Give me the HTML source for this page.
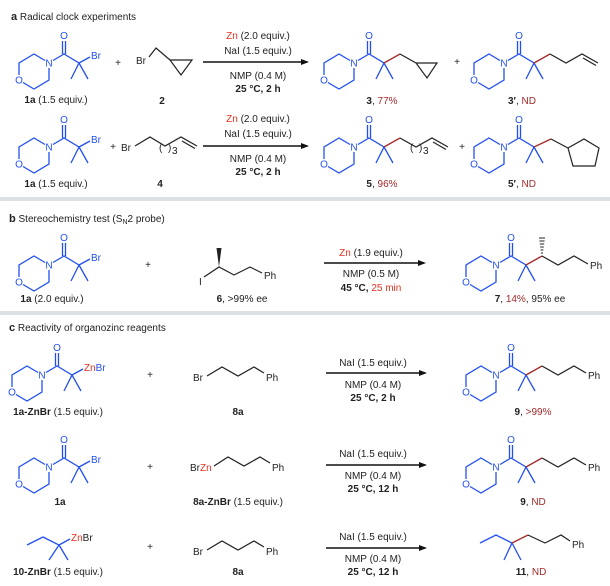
<!DOCTYPE html>
<html><head><meta charset="utf-8"><style>
html,body{margin:0;padding:0;background:#fff}
svg{display:block}
text{font-family:"Liberation Sans",Arial,sans-serif;font-size:10px;fill:#222}
.b{stroke:#2250f0;stroke-width:1.3;fill:none}
.k{stroke:#222;stroke-width:1.2;fill:none}
.r{stroke:#a52a2a;stroke-width:1.3;fill:none}
.bl{fill:#2250f0}
.rd{fill:#e83020}
.dr{fill:#a52a2a}
.c{text-anchor:middle}
.bd{font-weight:bold}
</style></head><body>
<svg width="610" height="586" viewBox="0 0 610 586" xmlns="http://www.w3.org/2000/svg">
<defs>
<marker id="ah" markerWidth="8" markerHeight="6" refX="6" refY="3" orient="auto" markerUnits="userSpaceOnUse"><path d="M0,0 L8,3 L0,6 z" fill="#111"/></marker>
</defs>
<rect x="0" y="197" width="610" height="4" fill="#dde0e2"/>
<rect x="0" y="311" width="610" height="4" fill="#dde0e2"/>

<text x="11" y="20"><tspan class="bd" font-size="11">a</tspan> Radical clock experiments</text>
<text x="9" y="222"><tspan class="bd" font-size="11">b</tspan> Stereochemistry test (S<tspan font-size="7" dy="2">N</tspan><tspan dy="-2">2 probe)</tspan></text>
<text x="9" y="331"><tspan class="bd" font-size="11">c</tspan> Reactivity of organozinc reagents</text>

<!-- ===== Row a1 ===== -->
<g transform="translate(49,63)">
<path class="b" d="M-4,-2.5 L-15,-9 L-30,0 L-30,12 M-26,19.5 L-15,26 L0,17 L0,5 M4,-2.5 L15,-9 L30,0 L22,16 M30,0 L39,16 M30,0 L41,-6 M13.5,-9 L13.5,-22 M16.5,-9 L16.5,-22"/>
<text x="0" y="3.5" class="c bl">N</text><text x="-30" y="20.5" class="c bl">O</text><text x="15" y="-24" class="c bl">O</text><text x="42" y="-4" class="bl">Br</text>
</g>
<text x="56" y="103" class="c"><tspan class="bd">1a</tspan> (1.5 equiv.)</text>
<text x="118" y="66" class="c">+</text>
<text x="136" y="64">Br</text>
<path class="k" d="M149,57 L156,48 L170,60 M170,60 L192,60 L181,75 Z"/>
<text x="162" y="104" class="c bd">2</text>
<line x1="203" y1="62" x2="307" y2="62" stroke="#111" stroke-width="1.6" marker-end="url(#ah)"/>
<text x="258" y="39" class="c"><tspan class="rd">Zn</tspan> (2.0 equiv.)</text>
<text x="258" y="54" class="c">NaI (1.5 equiv.)</text>
<text x="258" y="79" class="c">NMP (0.4 M)</text>
<text x="258" y="92" class="c bd">25 °C, 2 h</text>
<g transform="translate(354,63)">
<path class="b" d="M-4,-2.5 L-15,-9 L-30,0 L-30,12 M-26,19.5 L-15,26 L0,17 L0,5 M4,-2.5 L15,-9 L30,0 L22,16 M30,0 L39,16 M13.5,-9 L13.5,-22 M16.5,-9 L16.5,-22"/>
<text x="0" y="3.5" class="c bl">N</text><text x="-30" y="20.5" class="c bl">O</text><text x="15" y="-24" class="c bl">O</text>
<path class="r" d="M30,0 L46,-9"/>
<path class="k" d="M46,-9 L62,0 M62,0 L83,0 L73,15 Z"/>
</g>
<text x="382" y="104" class="c"><tspan class="bd">3</tspan>, <tspan class="dr">77%</tspan></text>
<text x="457" y="65" class="c">+</text>
<g transform="translate(504,63)">
<path class="b" d="M-4,-2.5 L-15,-9 L-30,0 L-30,12 M-26,19.5 L-15,26 L0,17 L0,5 M4,-2.5 L15,-9 L30,0 L22,16 M30,0 L39,16 M13.5,-9 L13.5,-22 M16.5,-9 L16.5,-22"/>
<text x="0" y="3.5" class="c bl">N</text><text x="-30" y="20.5" class="c bl">O</text><text x="15" y="-24" class="c bl">O</text>
<path class="r" d="M30,0 L46,-9"/>
<path class="k" d="M46,-9 L62,0 L78,-9 L94,0 M79,-5 L92,2.5"/>
</g>
<text x="522" y="104" class="c"><tspan class="bd">3′</tspan>, <tspan class="dr">ND</tspan></text>

<!-- ===== Row a2 ===== -->
<g transform="translate(49,147)">
<path class="b" d="M-4,-2.5 L-15,-9 L-30,0 L-30,12 M-26,19.5 L-15,26 L0,17 L0,5 M4,-2.5 L15,-9 L30,0 L22,16 M30,0 L39,16 M30,0 L41,-6 M13.5,-9 L13.5,-22 M16.5,-9 L16.5,-22"/>
<text x="0" y="3.5" class="c bl">N</text><text x="-30" y="20.5" class="c bl">O</text><text x="15" y="-24" class="c bl">O</text><text x="42" y="-4" class="bl">Br</text>
</g>
<text x="56" y="187" class="c"><tspan class="bd">1a</tspan> (1.5 equiv.)</text>
<text x="113" y="150" class="c">+</text>
<text x="121" y="151">Br</text>
<path class="k" d="M135,146 L150,137 L165,146 L181,137 L197,146 M182,141 L195,148.5"/>
<text x="159" y="151" font-size="9">(</text><text x="168" y="151" font-size="9">)</text><text x="172" y="154" font-size="7">3</text>
<text x="160" y="187" class="c bd">4</text>
<line x1="203" y1="146" x2="307" y2="146" stroke="#111" stroke-width="1.6" marker-end="url(#ah)"/>
<text x="258" y="122" class="c"><tspan class="rd">Zn</tspan> (2.0 equiv.)</text>
<text x="258" y="137" class="c">NaI (1.5 equiv.)</text>
<text x="258" y="162" class="c">NMP (0.4 M)</text>
<text x="258" y="175" class="c bd">25 °C, 2 h</text>
<g transform="translate(354,147)">
<path class="b" d="M-4,-2.5 L-15,-9 L-30,0 L-30,12 M-26,19.5 L-15,26 L0,17 L0,5 M4,-2.5 L15,-9 L30,0 L22,16 M30,0 L39,16 M13.5,-9 L13.5,-22 M16.5,-9 L16.5,-22"/>
<text x="0" y="3.5" class="c bl">N</text><text x="-30" y="20.5" class="c bl">O</text><text x="15" y="-24" class="c bl">O</text>
<path class="r" d="M30,0 L46,-9"/>
<path class="k" d="M46,-9 L62,0 L78,-9 L94,0 M79,-5 L92,2.5"/>
<text x="56" y="4" font-size="9">(</text><text x="65" y="4" font-size="9">)</text><text x="69" y="7" font-size="7">3</text>
</g>
<text x="382" y="187" class="c"><tspan class="bd">5</tspan>, <tspan class="dr">96%</tspan></text>
<text x="462" y="150" class="c">+</text>
<g transform="translate(504,147)">
<path class="b" d="M-4,-2.5 L-15,-9 L-30,0 L-30,12 M-26,19.5 L-15,26 L0,17 L0,5 M4,-2.5 L15,-9 L30,0 L22,16 M30,0 L39,16 M13.5,-9 L13.5,-22 M16.5,-9 L16.5,-22"/>
<text x="0" y="3.5" class="c bl">N</text><text x="-30" y="20.5" class="c bl">O</text><text x="15" y="-24" class="c bl">O</text>
<path class="r" d="M30,0 L47,-8"/>
<path class="k" d="M47,-8 L64,1 M64,1 L80,-8 L95,1 L91,19 L69,19 Z"/>
</g>
<text x="522" y="187" class="c"><tspan class="bd">5′</tspan>, <tspan class="dr">ND</tspan></text>

<!-- ===== Section b ===== -->
<g transform="translate(49,265)">
<path class="b" d="M-4,-2.5 L-15,-9 L-30,0 L-30,12 M-26,19.5 L-15,26 L0,17 L0,5 M4,-2.5 L15,-9 L30,0 L22,16 M30,0 L39,16 M30,0 L41,-6 M13.5,-9 L13.5,-22 M16.5,-9 L16.5,-22"/>
<text x="0" y="3.5" class="c bl">N</text><text x="-30" y="20.5" class="c bl">O</text><text x="15" y="-24" class="c bl">O</text><text x="42" y="-4" class="bl">Br</text>
</g>
<text x="52" y="302" class="c"><tspan class="bd">1a</tspan> (2.0 equiv.)</text>
<text x="148" y="268" class="c">+</text>
<text x="199" y="285">I</text>
<path d="M219,267 L216.5,248 L221.5,248 Z" fill="#222"/>
<path class="k" d="M204,277 L219,267 L234,275 L250,267 L262,273"/>
<text x="264" y="279">Ph</text>
<text x="242" y="302" class="c"><tspan class="bd">6</tspan>, &gt;99% ee</text>
<line x1="324" y1="263" x2="424" y2="263" stroke="#111" stroke-width="1.6" marker-end="url(#ah)"/>
<text x="371" y="256" class="c"><tspan class="rd">Zn</tspan> (1.9 equiv.)</text>
<text x="371" y="277" class="c">NMP (0.5 M)</text>
<text x="371" y="291" class="c bd">45 °C, <tspan class="rd" font-weight="normal">25 min</tspan></text>
<g transform="translate(496,265)">
<path class="b" d="M-4,-2.5 L-15,-9 L-30,0 L-30,12 M-26,19.5 L-15,26 L0,17 L0,5 M4,-2.5 L15,-9 L30,0 L22,16 M30,0 L39,16 M13.5,-9 L13.5,-22 M16.5,-9 L16.5,-22"/>
<text x="0" y="3.5" class="c bl">N</text><text x="-30" y="20.5" class="c bl">O</text><text x="15" y="-24" class="c bl">O</text>
<path class="r" d="M30,0 L46,-9"/>
<path class="k" d="M46,-9 L62,0 L78,-9 L92,-1"/>
<path stroke="#222" stroke-width="1" d="M45,-12 L47,-12 M44.6,-15 L47.4,-15 M44.2,-18 L47.8,-18 M43.8,-21 L48.2,-21 M43.4,-24 L48.6,-24 M43,-27 L49,-27"/>
<text x="94" y="4">Ph</text>
</g>
<text x="530" y="302" class="c"><tspan class="bd">7</tspan>, <tspan class="dr">14%</tspan>, 95% ee</text>

<!-- ===== Section c row 1 ===== -->
<g transform="translate(42,375)">
<path class="b" d="M-4,-2.5 L-15,-9 L-30,0 L-30,12 M-26,19.5 L-15,26 L0,17 L0,5 M4,-2.5 L15,-9 L30,0 L22,16 M30,0 L39,16 M30,0 L41,-6 M13.5,-9 L13.5,-22 M16.5,-9 L16.5,-22"/>
<text x="0" y="3.5" class="c bl">N</text><text x="-30" y="20.5" class="c bl">O</text><text x="15" y="-24" class="c bl">O</text><text x="42" y="-4"><tspan class="rd">Zn</tspan><tspan class="bl">Br</tspan></text>
</g>
<text x="58" y="415" class="c"><tspan class="bd">1a-ZnBr</tspan> (1.5 equiv.)</text>
<text x="150" y="378" class="c">+</text>
<text x="193" y="381">Br</text>
<path class="k" d="M207,376 L222,367 L238,376 L254,367 L264,373"/>
<text x="266" y="381">Ph</text>
<text x="238" y="415" class="c bd">8a</text>
<line x1="326" y1="373" x2="425" y2="373" stroke="#111" stroke-width="1.6" marker-end="url(#ah)"/>
<text x="373" y="366" class="c">NaI (1.5 equiv.)</text>
<text x="373" y="388" class="c">NMP (0.4 M)</text>
<text x="373" y="401" class="c bd">25 °C, 2 h</text>
<g transform="translate(496,375)">
<path class="b" d="M-4,-2.5 L-15,-9 L-30,0 L-30,12 M-26,19.5 L-15,26 L0,17 L0,5 M4,-2.5 L15,-9 L30,0 L22,16 M30,0 L39,16 M13.5,-9 L13.5,-22 M16.5,-9 L16.5,-22"/>
<text x="0" y="3.5" class="c bl">N</text><text x="-30" y="20.5" class="c bl">O</text><text x="15" y="-24" class="c bl">O</text>
<path class="r" d="M30,0 L46,-9"/>
<path class="k" d="M46,-9 L62,0 L78,-9 L90,-2"/>
<text x="92" y="4">Ph</text>
</g>
<text x="533" y="415" class="c"><tspan class="bd">9</tspan>, <tspan class="dr">&gt;99%</tspan></text>

<!-- ===== Section c row 2 ===== -->
<g transform="translate(49,467)">
<path class="b" d="M-4,-2.5 L-15,-9 L-30,0 L-30,12 M-26,19.5 L-15,26 L0,17 L0,5 M4,-2.5 L15,-9 L30,0 L22,16 M30,0 L39,16 M30,0 L41,-6 M13.5,-9 L13.5,-22 M16.5,-9 L16.5,-22"/>
<text x="0" y="3.5" class="c bl">N</text><text x="-30" y="20.5" class="c bl">O</text><text x="15" y="-24" class="c bl">O</text><text x="42" y="-4" class="bl">Br</text>
</g>
<text x="60" y="505" class="c bd">1a</text>
<text x="150" y="470" class="c">+</text>
<text x="190" y="471">Br<tspan class="rd">Zn</tspan></text>
<path class="k" d="M214,466 L228,457 L244,466 L260,457 L270,463"/>
<text x="272" y="471">Ph</text>
<text x="238" y="505" class="c"><tspan class="bd">8a-ZnBr</tspan> (1.5 equiv.)</text>
<line x1="326" y1="465" x2="425" y2="465" stroke="#111" stroke-width="1.6" marker-end="url(#ah)"/>
<text x="373" y="457" class="c">NaI (1.5 equiv.)</text>
<text x="373" y="479" class="c">NMP (0.4 M)</text>
<text x="373" y="492" class="c bd">25 °C, 12 h</text>
<g transform="translate(496,467)">
<path class="b" d="M-4,-2.5 L-15,-9 L-30,0 L-30,12 M-26,19.5 L-15,26 L0,17 L0,5 M4,-2.5 L15,-9 L30,0 L22,16 M30,0 L39,16 M13.5,-9 L13.5,-22 M16.5,-9 L16.5,-22"/>
<text x="0" y="3.5" class="c bl">N</text><text x="-30" y="20.5" class="c bl">O</text><text x="15" y="-24" class="c bl">O</text>
<path class="r" d="M30,0 L46,-9"/>
<path class="k" d="M46,-9 L62,0 L78,-9 L90,-2"/>
<text x="92" y="4">Ph</text>
</g>
<text x="533" y="505" class="c"><tspan class="bd">9</tspan>, <tspan class="dr">ND</tspan></text>

<!-- ===== Section c row 3 ===== -->
<path class="b" d="M27,545 L43,537 L59,545 L49,560 M59,545 L68,560 M59,545 L70,539"/>
<text x="71" y="541"><tspan class="rd">Zn</tspan>Br</text>
<text x="58" y="575" class="c"><tspan class="bd">10-ZnBr</tspan> (1.5 equiv.)</text>
<text x="150" y="550" class="c">+</text>
<text x="193" y="555">Br</text>
<path class="k" d="M207,550 L222,541 L238,550 L254,541 L264,547"/>
<text x="266" y="555">Ph</text>
<text x="238" y="575" class="c bd">8a</text>
<line x1="326" y1="548" x2="425" y2="548" stroke="#111" stroke-width="1.6" marker-end="url(#ah)"/>
<text x="373" y="540" class="c">NaI (1.5 equiv.)</text>
<text x="373" y="562" class="c">NMP (0.4 M)</text>
<text x="373" y="575" class="c bd">25 °C, 12 h</text>
<path class="b" d="M480,543 L496,535 L512,543 L504,560 M512,543 L521,560"/>
<path class="r" d="M512,543 L528,535"/>
<path class="k" d="M528,535 L545,543 L561,535 L570,541"/>
<text x="572" y="548">Ph</text>
<text x="531" y="575" class="c"><tspan class="bd">11</tspan>, <tspan class="dr">ND</tspan></text>
</svg>
</body></html>
